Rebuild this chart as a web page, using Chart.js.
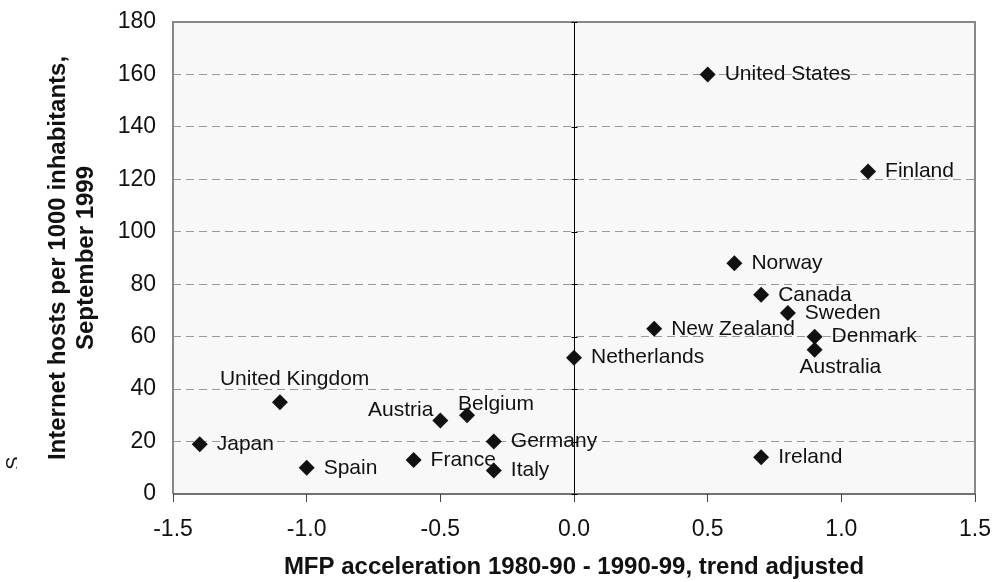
<!DOCTYPE html>
<html>
<head>
<meta charset="utf-8">
<script src="https://cdn.jsdelivr.net/npm/chart.js@4/dist/chart.umd.min.js"></script>
<style>
  html, body { margin: 0; padding: 0; background: #fff; }
  #wrap { width: 993px; height: 582px; }
</style>
</head>
<body>
<div id="wrap"><canvas id="mfp"></canvas></div>
<script>
// data
var countries = ['United States', 'Finland', 'Norway', 'Canada', 'Sweden', 'Denmark', 'Australia',
                 'New Zealand', 'Netherlands', 'Ireland', 'United Kingdom', 'Japan', 'Spain',
                 'France', 'Austria', 'Belgium', 'Germany', 'Italy'];
var mfpAccel = [0.5, 1.1, 0.6, 0.7, 0.8, 0.9, 0.9, 0.3, 0.0, 0.7, -1.1, -1.4, -1.0, -0.6, -0.5, -0.4, -0.3, -0.3];
var hostsPer1000 = [160, 123, 88, 76, 69, 60, 55, 63, 52, 14, 35, 19, 10, 13, 28, 30, 20, 9];
var xTicks = [-1.5, -1.0, -0.5, 0.0, 0.5, 1.0, 1.5];

// where a label sits relative to its marker (style only)
var labelPlace = {
    'Australia': { dx: -15, dy: 17, align: 'left' },
    'United Kingdom': { dx: -60, dy: -23, align: 'left' },
    'Austria': { dx: -7, dy: -10, align: 'right' },
    'Belgium': { dx: -9, dy: -11, align: 'left' }
};

var FONT = "'Liberation Sans', Arial, sans-serif";

var points = [];
for (var i = 0; i < countries.length; i++) {
    points.push({ x: mfpAccel[i], y: hostsPer1000[i] });
}

var plotDeco = {
    id: 'plotDeco',
    beforeDraw: function (chart) {
        var a = chart.chartArea, ctx = chart.ctx;
        ctx.save();
        ctx.fillStyle = '#f8f8f8';
        ctx.fillRect(a.left, a.top, a.right - a.left, a.bottom - a.top);
        ctx.restore();
    },
    beforeDatasetsDraw: function (chart) {
        var a = chart.chartArea, ctx = chart.ctx;
        var xs = chart.scales.x, ys = chart.scales.y;
        ctx.save();
        // frame
        ctx.strokeStyle = '#888';
        ctx.lineWidth = 2;
        ctx.beginPath();
        ctx.moveTo(a.left, a.bottom);
        ctx.lineTo(a.left, a.top);
        ctx.lineTo(a.right, a.top);
        ctx.lineTo(a.right, a.bottom);
        ctx.stroke();
        ctx.strokeStyle = '#444';
        ctx.lineWidth = 1.5;
        ctx.beginPath();
        ctx.moveTo(a.left, a.bottom);
        ctx.lineTo(a.right, a.bottom);
        ctx.stroke();
        // small ticks on the zero line
        var x0 = Math.round(xs.getPixelForValue(0)) + 0.5;
        ctx.strokeStyle = '#000';
        ctx.lineWidth = 1;
        ys.ticks.forEach(function (t) {
            var py = Math.round(ys.getPixelForValue(t.value)) + 0.5;
            ctx.beginPath();
            ctx.moveTo(x0 - 3, py);
            ctx.lineTo(x0 + 3, py);
            ctx.stroke();
        });
        ctx.restore();
    },
    afterDraw: function (chart) {
        var ctx = chart.ctx;
        var meta = chart.getDatasetMeta(0);
        ctx.save();
        ctx.font = '21px ' + FONT;
        ctx.fillStyle = '#111';
        ctx.textBaseline = 'middle';
        meta.data.forEach(function (el, i) {
            var name = countries[i];
            var p = labelPlace[name] || { dx: 17, dy: 0, align: 'left' };
            ctx.textAlign = p.align;
            ctx.fillText(name, el.x + p.dx, el.y + p.dy);
        });
        // stray clipped character at the left edge
        ctx.beginPath();
        ctx.rect(0, 440, 17, 40);
        ctx.clip();
        ctx.translate(14, 463);
        ctx.rotate(-Math.PI / 2);
        ctx.textAlign = 'center';
        ctx.font = '20px ' + FONT;
        ctx.fillText('S', 0, 0);
        ctx.restore();
    }
};

new Chart(document.getElementById('mfp'), {
    type: 'scatter',
    data: {
        datasets: [{
            data: points,
            pointStyle: 'rectRot',
            pointRadius: 8,
            pointHoverRadius: 8,
            backgroundColor: '#111',
            borderColor: '#111',
            borderWidth: 0
        }]
    },
    options: {
        responsive: true,
        maintainAspectRatio: false,
        animation: false,
        events: [],
        layout: { padding: { top: 22, right: 18, bottom: 0, left: 0 } },
        plugins: { legend: { display: false }, tooltip: { enabled: false } },
        scales: {
            x: {
                type: 'linear',
                min: -1.5,
                max: 1.5,
                afterBuildTicks: function (scale) {
                    scale.ticks = xTicks.map(function (v) { return { value: v }; });
                },
                afterFit: function (scale) {
                    scale.height = 88;
                    scale.paddingLeft = 0;
                    scale.paddingRight = 0;
                },
                grid: {
                    drawOnChartArea: true,
                    color: function (c) { return c.tick && c.tick.value === 0 ? '#000' : 'rgba(0,0,0,0)'; },
                    tickColor: '#444',
                    tickLength: 8,
                    lineWidth: 1
                },
                border: { display: false },
                ticks: {
                    color: '#111',
                    font: { family: FONT, size: 23 },
                    padding: 14,
                    maxRotation: 0,
                    callback: function (v) { return Number(v).toFixed(1); }
                },
                title: {
                    display: true,
                    text: 'MFP acceleration 1980-90 - 1990-99, trend adjusted',
                    color: '#111',
                    font: { family: FONT, size: 24, weight: 'bold', lineHeight: 1.2 },
                    padding: { top: 0, bottom: 0 }
                }
            },
            y: {
                min: 0,
                max: 180,
                ticks: {
                    stepSize: 20,
                    color: '#111',
                    font: { family: FONT, size: 23 },
                    padding: 17
                },
                afterFit: function (scale) {
                    scale.width = 173;
                    scale.paddingTop = 0;
                    scale.paddingBottom = 0;
                },
                grid: {
                    drawTicks: false,
                    color: function (c) { return (c.tick.value === 0 || c.tick.value === 180) ? 'rgba(0,0,0,0)' : '#999'; },
                    lineWidth: 1
                },
                border: { display: false, dash: [8, 5] },
                title: {
                    display: true,
                    text: ['Internet hosts per 1000 inhabitants,', 'September 1999'],
                    color: '#111',
                    font: { family: FONT, size: 24, weight: 'bold', lineHeight: 1.17 },
                    padding: { top: 44, bottom: 0 }
                }
            }
        }
    },
    plugins: [plotDeco]
});
</script>
</body>
</html>
